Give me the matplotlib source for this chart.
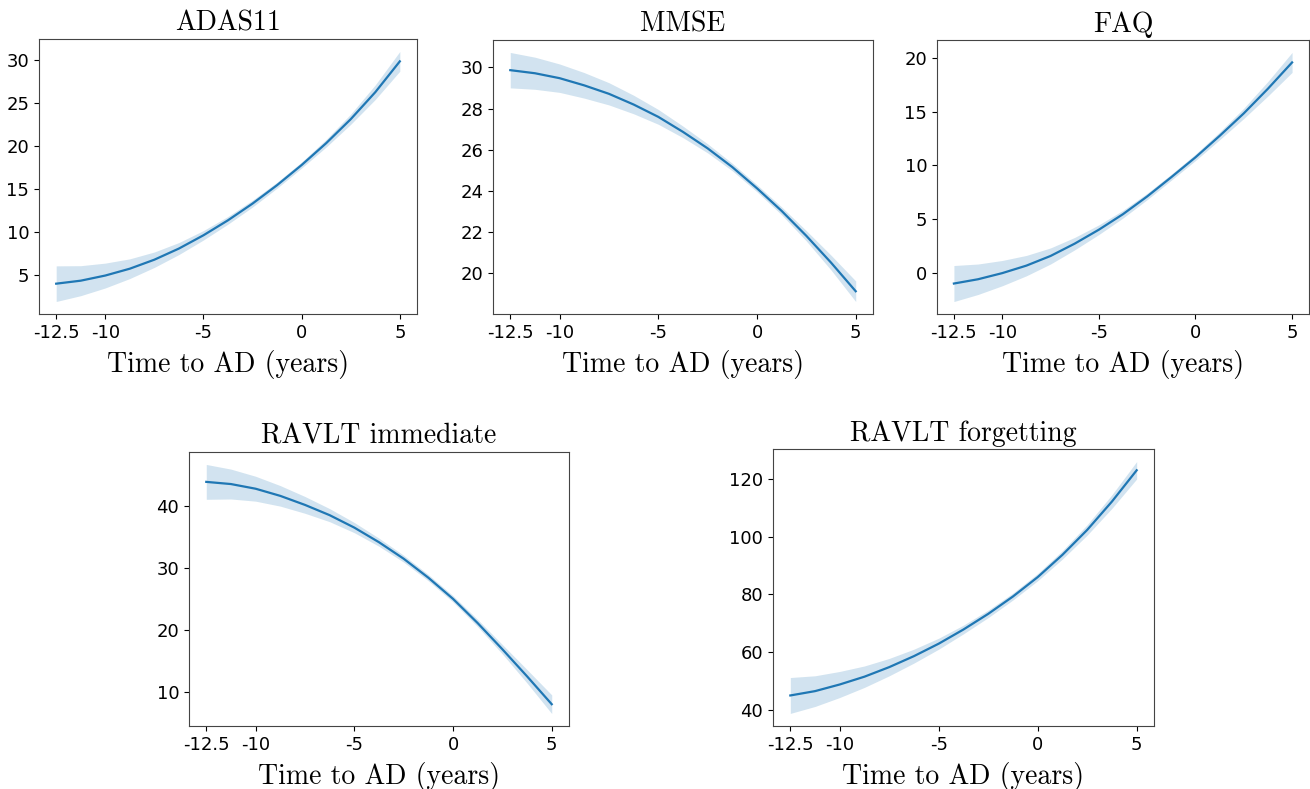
import numpy as np
import matplotlib
matplotlib.use("Agg")
import matplotlib.pyplot as plt

# Time grid (years relative to AD conversion)
time_to_ad = [-12.5, -11.25, -10, -8.75, -7.5, -6.25, -5, -3.75, -2.5, -1.25, 0, 1.25, 2.5, 3.75, 5]
xticks = [-12.5, -10, -5, 0, 5]
xtick_labels = ['-12.5', '-10', '-5', '0', '5']

# Mean trajectories
adas11 = [3.95, 4.3, 4.9, 5.7, 6.75, 8.05, 9.6, 11.35, 13.3, 15.45, 17.8, 20.35, 23.15, 26.3, 29.9]
mmse = [29.87, 29.72, 29.48, 29.13, 28.72, 28.2, 27.6, 26.87, 26.07, 25.16, 24.13, 23.03, 21.82, 20.52, 19.13]
faq = [-1.02, -0.62, -0.05, 0.65, 1.55, 2.7, 4.0, 5.45, 7.1, 8.9, 10.75, 12.75, 14.85, 17.15, 19.6]
ravlt_imm = [43.8, 43.45, 42.7, 41.55, 40.1, 38.45, 36.45, 34.1, 31.45, 28.4, 25.0, 21.1, 16.9, 12.55, 8.07]
ravlt_forg = [45.1, 46.6, 48.9, 51.6, 54.9, 58.7, 63.0, 67.9, 73.3, 79.3, 86.0, 93.7, 102.3, 112.1, 122.9]

# Half-width of the shaded band
adas11_ci = [2.08, 1.75, 1.45, 1.15, 0.9, 0.7, 0.55, 0.45, 0.4, 0.35, 0.35, 0.45, 0.6, 0.85, 1.15]
mmse_ci = [0.86, 0.78, 0.69, 0.62, 0.54, 0.45, 0.36, 0.28, 0.22, 0.18, 0.17, 0.19, 0.25, 0.36, 0.5]
faq_ci = [1.68, 1.42, 1.18, 0.95, 0.75, 0.58, 0.45, 0.36, 0.3, 0.28, 0.3, 0.36, 0.48, 0.68, 0.93]
ravlt_imm_ci = [2.8, 2.4, 2.0, 1.65, 1.35, 1.05, 0.82, 0.65, 0.55, 0.5, 0.5, 0.58, 0.75, 1.08, 1.5]
ravlt_forg_ci = [6.2, 5.3, 4.5, 3.7, 3.0, 2.4, 1.9, 1.5, 1.3, 1.2, 1.25, 1.45, 1.8, 2.35, 3.0]

titles = ['ADAS11', 'MMSE', 'FAQ', 'RAVLT immediate', 'RAVLT forgetting']
means = [adas11, mmse, faq, ravlt_imm, ravlt_forg]
cis = [adas11_ci, mmse_ci, faq_ci, ravlt_imm_ci, ravlt_forg_ci]

plt.rcParams['axes.unicode_minus'] = False

W, H = 1310, 789
fig = plt.figure(figsize=(W / 100, H / 100), dpi=100)

# axes boxes in pixels: left, top, right, bottom
boxes = [(39, 39, 417, 314), (493, 40, 873, 314), (937, 40, 1309, 314),
         (189, 452, 569, 726), (773, 449, 1154, 726)]

for box, title, mean, ci in zip(boxes, titles, means, cis):
    l, t, r, b = box
    ax = fig.add_axes([l / W, 1 - b / H, (r - l) / W, (b - t) / H])
    x = np.array(time_to_ad)
    m = np.array(mean)
    c = np.array(ci)
    ax.fill_between(x, m - c, m + c, color='#1f77b4', alpha=0.2, linewidth=0)
    ax.plot(x, m, color='#1f77b4', linewidth=1.6)
    ax.set_xticks(xticks)
    ax.set_xticklabels(xtick_labels)
    ax.tick_params(labelsize=13)
    ax.set_title(title, fontfamily='cmr10', fontsize=20)
    ax.set_xlabel('Time to AD (years)', fontfamily='cmr10', fontsize=20, labelpad=6)
    for sp in ax.spines.values():
        sp.set_color('#444444')

fig.savefig('out.png', dpi=100)
